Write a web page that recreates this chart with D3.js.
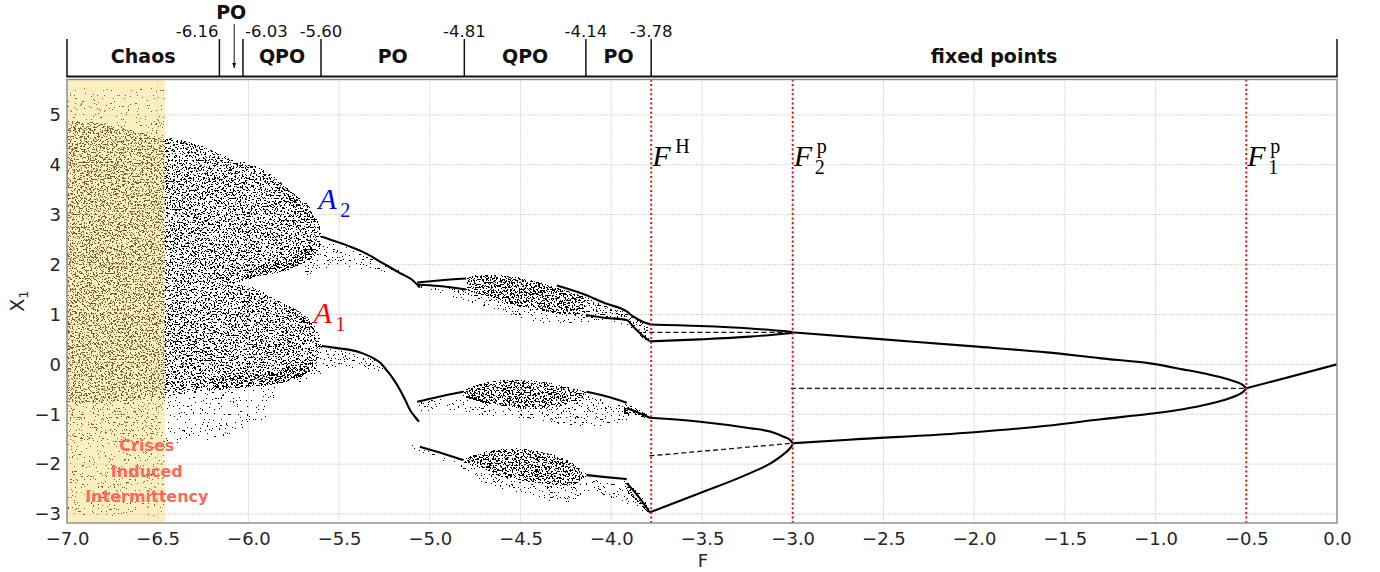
<!DOCTYPE html>
<html>
<head>
<meta charset="utf-8">
<script src="https://cdn.jsdelivr.net/npm/d3@7"></script>
<style>
  html, body { margin: 0; padding: 0; background: #fff; }
  svg { display: block; }
</style>
</head>
<body>
<svg id="chart" width="1380" height="572"></svg>
<script>
// ---------- axes ----------
const xTickValues = [-7, -6.5, -6, -5.5, -5, -4.5, -4, -3.5, -3, -2.5, -2, -1.5, -1, -0.5, 0];
const yTickValues = [-3, -2, -1, 0, 1, 2, 3, 4, 5];

// ---------- dynamical regimes along F ----------
const regimeBounds = [-6.16, -6.03, -5.60, -4.81, -4.14, -3.78];
const regimeNames = ["Chaos", "PO", "QPO", "PO", "QPO", "PO", "fixed points"];

// ---------- critical forcing values ----------
const criticalF = [-3.78, -3.0, -0.5];
const criticalBase = ["F", "F", "F"];
const criticalSup = ["H", "p", "p"];
const criticalSub = ["", "2", "1"];

// ---------- crisis-induced intermittency band ----------
const crisisBand = [-7.0, -6.46];
const crisisText = ["Crises", "Induced", "Intermittency"];

// ---------- scattered attractor clouds: [F, lowest X1, highest X1] ----------
const chaosCore = [[-7.00, -0.75, 4.90], [-6.85, -0.80, 4.85], [-6.70, -0.75, 4.75], [-6.55, -0.70, 4.62], [-6.46, -0.68, 4.55]];
const chaosFringe = [[-7.00, -1.60, -0.75], [-6.85, -1.55, -0.80], [-6.70, -1.50, -0.75], [-6.46, -1.40, -0.68]];
const chaosHaloTop = [[-7.00, 4.90, 5.55], [-6.85, 4.85, 5.55], [-6.70, 4.75, 5.55], [-6.46, 4.55, 5.55]];
const chaosHaloLow = [[-7.00, -3.05, -1.60], [-6.85, -3.05, -1.55], [-6.70, -3.05, -1.50], [-6.46, -3.05, -1.40]];
const chaosBelow = [[-6.46, -1.60, -0.66], [-6.20, -1.50, -0.52], [-6.00, -1.30, -0.46], [-5.85, -0.90, -0.41]];

const cloudA2 = [[-6.46, 1.60, 4.55], [-6.27, 1.60, 4.40], [-6.12, 1.60, 4.16], [-6.05, 1.62, 4.07], [-5.99, 1.72, 4.03],
  [-5.95, 1.76, 3.96], [-5.88, 1.80, 3.83], [-5.84, 1.83, 3.72], [-5.77, 1.90, 3.49], [-5.73, 1.96, 3.36], [-5.68, 2.05, 3.23],
  [-5.64, 2.16, 3.02], [-5.62, 2.25, 2.89], [-5.60, 2.42, 2.68], [-5.595, 2.52, 2.58]];
const cloudA1 = [[-6.46, -0.65, 1.60], [-6.175, -0.51, 1.60], [-6.12, -0.49, 1.60], [-6.05, -0.47, 1.60], [-5.99, -0.45, 1.56],
  [-5.84, -0.40, 1.29], [-5.81, -0.38, 1.23], [-5.73, -0.26, 1.09], [-5.68, -0.18, 0.98], [-5.64, -0.05, 0.82],
  [-5.615, 0.09, 0.62], [-5.60, 0.22, 0.45], [-5.595, 0.33, 0.37]];
const edgeA2 = [[-6.02, 1.66, 1.88], [-5.88, 1.80, 2.05], [-5.77, 1.90, 2.16], [-5.68, 2.05, 2.30], [-5.63, 2.20, 2.45]];
const rimA2 = [[-5.84, 3.52, 3.72], [-5.73, 3.17, 3.36], [-5.65, 2.85, 3.00]];
const edgeA1 = [[-6.20, -0.52, -0.27], [-5.99, -0.45, -0.18], [-5.81, -0.38, -0.10], [-5.70, -0.22, 0.05], [-5.64, -0.05, 0.15]];
const rimA1 = [[-5.80, 1.07, 1.25], [-5.70, 0.86, 1.02], [-5.64, 0.66, 0.80]];
const tailA2 = [[-5.59, 1.90, 2.50], [-5.50, 1.97, 2.40], [-5.40, 1.92, 2.28], [-5.30, 1.87, 2.12], [-5.20, 1.80, 1.95], [-5.12, 1.75, 1.78]];
const tailA2Under = [[-5.72, 1.75, 1.92], [-5.64, 1.80, 2.14], [-5.60, 1.84, 2.38]];
const tailA1 = [[-5.59, -0.12, 0.33], [-5.50, -0.08, 0.30], [-5.40, -0.08, 0.20], [-5.30, -0.12, 0.10], [-5.22, -0.25, -0.10]];
const tailA1Under = [[-5.75, -0.40, -0.22], [-5.66, -0.30, -0.12], [-5.60, -0.20, 0.20]];

const qpoUpper = [[-4.80, 1.50, 1.72], [-4.74, 1.42, 1.79], [-4.65, 1.34, 1.79], [-4.56, 1.22, 1.77], [-4.45, 1.12, 1.70],
  [-4.34, 1.05, 1.59], [-4.24, 1.00, 1.48], [-4.14, 0.98, 1.36]];
const qpoUpperSparse = [[-5.05, 1.50, 1.60], [-4.90, 1.38, 1.58], [-4.80, 1.25, 1.50], [-4.65, 1.08, 1.34], [-4.50, 0.92, 1.17],
  [-4.35, 0.82, 1.06], [-4.20, 0.82, 0.99], [-4.05, 0.88, 0.95], [-3.95, 0.82, 0.90], [-3.85, 0.58, 0.62], [-3.79, 0.45, 0.47]];
const qpoUpperWedge = [[-4.14, 1.00, 1.36], [-4.05, 0.95, 1.22], [-3.95, 0.90, 1.10], [-3.90, 0.85, 1.00], [-3.85, 0.60, 0.92], [-3.79, 0.45, 0.82]];

const qpoMid = [[-4.82, -0.62, -0.53], [-4.75, -0.72, -0.42], [-4.687, -0.78, -0.35], [-4.61, -0.83, -0.32], [-4.52, -0.88, -0.30],
  [-4.43, -0.91, -0.32], [-4.32, -0.88, -0.38], [-4.246, -0.81, -0.45], [-4.18, -0.72, -0.50], [-4.137, -0.62, -0.55]];
const qpoMidSparse = [[-5.07, -0.95, -0.75], [-4.90, -0.92, -0.66], [-4.80, -0.98, -0.64], [-4.61, -1.05, -0.84], [-4.43, -1.12, -0.92],
  [-4.25, -1.22, -0.82], [-4.10, -1.25, -0.62], [-3.97, -1.21, -0.76], [-3.90, -1.10, -0.95]];
const qpoMidWedge = [[-3.93, -0.98, -0.78], [-3.85, -1.05, -0.90], [-3.79, -1.10, -1.02]];

const qpoLow = [[-4.82, -1.97, -1.90], [-4.75, -2.05, -1.80], [-4.705, -2.10, -1.75], [-4.61, -2.25, -1.70], [-4.52, -2.32, -1.68],
  [-4.43, -2.38, -1.72], [-4.35, -2.42, -1.78], [-4.28, -2.44, -1.85], [-4.20, -2.40, -2.00], [-4.137, -2.25, -2.20]];
const qpoLowSparse = [[-5.10, -1.70, -1.55], [-5.00, -1.85, -1.72], [-4.82, -2.10, -1.98], [-4.71, -2.38, -2.12], [-4.55, -2.55, -2.30],
  [-4.43, -2.65, -2.40], [-4.27, -2.78, -2.45], [-4.10, -2.60, -2.30], [-3.95, -2.75, -2.45], [-3.80, -3.00, -2.95]];
const qpoLowWedge = [[-3.93, -2.48, -2.30], [-3.85, -2.78, -2.55], [-3.79, -3.00, -2.88]];

// ---------- periodic-orbit and fixed-point branches: [F, X1] ----------
const branchA2 = [[-5.595, 2.56], [-5.50, 2.44], [-5.44, 2.36], [-5.35, 2.22], [-5.26, 2.03], [-5.165, 1.83], [-5.10, 1.70], [-5.055, 1.54]];
const branchA1 = [[-5.595, 0.37], [-5.50, 0.32], [-5.44, 0.29], [-5.37, 0.22], [-5.31, 0.12], [-5.27, 0.02], [-5.24, -0.11],
  [-5.20, -0.30], [-5.165, -0.51], [-5.135, -0.72], [-5.11, -0.91], [-5.08, -1.06], [-5.06, -1.15]];
const poUpperA = [[-5.07, 1.64], [-4.95, 1.68], [-4.80, 1.72]];
const poUpperB = [[-5.07, 1.60], [-4.95, 1.57], [-4.80, 1.50]];
const poUpperC = [[-4.30, 1.58], [-4.14, 1.39], [-4.03, 1.22], [-3.915, 1.06], [-3.88, 0.96], [-3.83, 0.86], [-3.78, 0.80]];
const poUpperD = [[-4.14, 0.99], [-4.03, 0.93], [-3.915, 0.89], [-3.88, 0.76], [-3.84, 0.62], [-3.79, 0.47]];
const poMidA = [[-5.07, -0.75], [-4.95, -0.65], [-4.816, -0.55]];
const poMidB = [[-4.137, -0.55], [-4.03, -0.64], [-3.915, -0.77]];
const poMidC = [[-3.915, -0.88], [-3.85, -0.97], [-3.787, -1.07]];
const poLowA = [[-5.055, -1.65], [-4.95, -1.76], [-4.816, -1.92]];
const poLowB = [[-4.137, -2.22], [-4.03, -2.26], [-3.915, -2.30]];
const poLowC = [[-3.915, -2.38], [-3.85, -2.65], [-3.787, -2.97]];

const fixedUpperHi = [[-3.79, 0.80], [-3.51, 0.77], [-3.235, 0.72], [-3.0, 0.65]];
const fixedUpperLo = [[-3.79, 0.46], [-3.51, 0.50], [-3.235, 0.555], [-3.0, 0.63]];
const fixedLowerHi = [[-3.79, -1.07], [-3.51, -1.15], [-3.235, -1.28], [-3.12, -1.35], [-3.05, -1.45], [-3.01, -1.53], [-3.0, -1.58]];
const fixedLowerLo = [[-3.79, -2.97], [-3.51, -2.58], [-3.235, -2.18], [-3.12, -1.98], [-3.05, -1.80], [-3.01, -1.66], [-3.0, -1.60]];
const pitchforkUpper = [[-3.0, 0.64], [-2.5, 0.50], [-2.0, 0.36], [-1.6, 0.24], [-1.3, 0.12], [-1.03, 0.02], [-0.85, -0.10],
  [-0.7, -0.21], [-0.6, -0.30], [-0.55, -0.36], [-0.52, -0.41], [-0.5, -0.48]];
const pitchforkLower = [[-3.0, -1.58], [-2.69, -1.51], [-2.0, -1.36], [-1.6, -1.23], [-1.3, -1.10], [-1.03, -0.99], [-0.85, -0.90],
  [-0.7, -0.79], [-0.6, -0.69], [-0.55, -0.62], [-0.52, -0.56], [-0.5, -0.48]];
const trivialBranch = [[-0.5, -0.48], [0, 0]];

// unstable branches (dashed)
const unstableUpper = [[-3.79, 0.64], [-3.0, 0.64]];
const unstableLower = [[-3.79, -1.835], [-3.0, -1.58]];
const unstableTrivial = [[-3.01, -0.48], [-0.5, -0.48]];

// ---------- drawing ----------
const svg = d3.select("#chart");
const x = d3.scaleLinear().domain([-7, 0]).range([67, 1337]);
const y = d3.scaleLinear().domain([-3.18, 5.71]).range([523, 79.5]);
const plotTop = y.range()[1], plotBottom = y.range()[0];
const plotLeft = x.range()[0], plotRight = x.range()[1];

const defs = svg.append("defs");
// grain filter turning translucent regions into a stippled point cloud
const stipple = defs.append("filter").attr("id", "stipple")
  .attr("filterUnits", "userSpaceOnUse").attr("x", 0).attr("y", 0).attr("width", 1380).attr("height", 572)
  .attr("color-interpolation-filters", "sRGB");
stipple.append("feTurbulence").attr("type", "fractalNoise").attr("baseFrequency", "0.57 0.63")
  .attr("numOctaves", 2).attr("seed", 7).attr("result", "noise");
stipple.append("feColorMatrix").attr("in", "noise").attr("type", "matrix")
  .attr("values", "0 0 0 0 0  0 0 0 0 0  0 0 0 0 0  1 0 0 0 0").attr("result", "grain");
stipple.append("feComposite").attr("in", "SourceAlpha").attr("in2", "grain").attr("operator", "arithmetic")
  .attr("k1", 0).attr("k2", 1).attr("k3", -1).attr("k4", 0.5).attr("result", "diff");
const ct = stipple.append("feComponentTransfer").attr("in", "diff");
["feFuncR", "feFuncG", "feFuncB"].forEach(n => ct.append(n).attr("type", "linear").attr("slope", 0).attr("intercept", 0));
ct.append("feFuncA").attr("type", "discrete").attr("tableValues", "0 1");

defs.append("clipPath").attr("id", "plotClip").append("rect")
  .attr("x", plotLeft).attr("y", plotTop).attr("width", plotRight - plotLeft).attr("height", plotBottom - plotTop);

defs.append("marker").attr("id", "arrowHead").attr("viewBox", "0 0 10 10").attr("refX", 10).attr("refY", 5)
  .attr("markerWidth", 5).attr("markerHeight", 5).attr("orient", "auto")
  .append("path").attr("d", "M0,1 L10,5 L0,9 z").attr("fill", "#111");

// grid
const grid = svg.append("g");
grid.selectAll("line.gx").data(xTickValues).join("line")
  .attr("x1", d => x(d)).attr("x2", d => x(d)).attr("y1", plotTop).attr("y2", plotBottom)
  .attr("stroke", "#c4c4c4").attr("stroke-width", 0.9).attr("stroke-dasharray", "1.2,1.2");
grid.selectAll("line.gy").data(yTickValues).join("line")
  .attr("y1", d => y(d)).attr("y2", d => y(d)).attr("x1", plotLeft).attr("x2", plotRight)
  .attr("stroke", "#c4c4c4").attr("stroke-width", 0.9).attr("stroke-dasharray", "1.2,1.2");

// clouds: [rows, fill opacity driving the dot density]
const area = d3.area().x(d => x(d[0])).y0(d => y(d[1])).y1(d => y(d[2])).curve(d3.curveMonotoneX);
const clouds = [
  [chaosHaloTop, 0.295], [chaosHaloLow, 0.305], [chaosFringe, 0.34], [chaosCore, 0.43], [chaosBelow, 0.29],
  [cloudA2, 0.428], [cloudA1, 0.428], [edgeA2, 0.1], [rimA2, 0.08], [edgeA1, 0.1], [rimA1, 0.08],
  [tailA2, 0.325], [tailA2Under, 0.325], [tailA1, 0.325], [tailA1Under, 0.325],
  [qpoUpper, 0.466], [qpoUpperSparse, 0.33], [qpoUpperWedge, 0.39],
  [qpoMid, 0.46], [qpoMidSparse, 0.325], [qpoMidWedge, 0.43],
  [qpoLow, 0.46], [qpoLowSparse, 0.325], [qpoLowWedge, 0.43]
];
const cloudLayer = svg.append("g").attr("clip-path", "url(#plotClip)").append("g").attr("filter", "url(#stipple)");
cloudLayer.selectAll("path").data(clouds).join("path")
  .attr("d", d => area(d[0])).attr("fill", "#000").attr("fill-opacity", d => d[1]);

// branches
const line = d3.line().x(d => x(d[0])).y(d => y(d[1])).curve(d3.curveMonotoneX);
const solidBranches = [branchA2, branchA1, poUpperA, poUpperB, poUpperC, poUpperD, poMidA, poMidB, poMidC,
  poLowA, poLowB, poLowC, fixedUpperHi, fixedUpperLo, fixedLowerHi, fixedLowerLo, pitchforkUpper, pitchforkLower, trivialBranch];
svg.append("g").attr("clip-path", "url(#plotClip)").selectAll("path").data(solidBranches).join("path")
  .attr("d", line).attr("fill", "none").attr("stroke", "#000").attr("stroke-width", 2.1).attr("stroke-linejoin", "round");
svg.append("g").selectAll("path").data([unstableUpper, unstableLower, unstableTrivial]).join("path")
  .attr("d", line).attr("fill", "none").attr("stroke", "#111").attr("stroke-width", 1.3).attr("stroke-dasharray", "5,3");

// intermittency shading
svg.append("rect").attr("x", x(crisisBand[0])).attr("y", plotTop)
  .attr("width", x(crisisBand[1]) - x(crisisBand[0])).attr("height", plotBottom - plotTop)
  .attr("fill", "rgb(247,220,120)").attr("fill-opacity", 0.45);

// critical forcing markers
svg.append("g").selectAll("line").data(criticalF).join("line")
  .attr("x1", d => x(d)).attr("x2", d => x(d)).attr("y1", plotTop).attr("y2", plotBottom)
  .attr("stroke", "#d91a1a").attr("stroke-width", 2).attr("stroke-dasharray", "2,2.6");

// spines
const spines = svg.append("g").attr("stroke", "#8a8a8a").attr("stroke-width", 1.4).attr("fill", "none");
spines.append("rect").attr("x", plotLeft).attr("y", plotTop).attr("width", plotRight - plotLeft).attr("height", plotBottom - plotTop);

// axes
const xAxis = svg.append("g").attr("transform", `translate(0,${plotBottom})`)
  .call(d3.axisBottom(x).tickValues(xTickValues).tickSize(0).tickPadding(9).tickFormat(d3.format(".1f")));
const yAxis = svg.append("g").attr("transform", `translate(${plotLeft},0)`)
  .call(d3.axisLeft(y).tickValues(yTickValues).tickSize(0).tickPadding(6).tickFormat(d3.format("d")));
[xAxis, yAxis].forEach(a => {
  a.select(".domain").remove();
  a.selectAll("text").attr("font-family", "DejaVu Sans").attr("font-size", 18).attr("fill", "#262626");
});

svg.append("text").attr("x", (plotLeft + plotRight) / 2 + 1).attr("y", 567).attr("text-anchor", "middle")
  .attr("font-family", "DejaVu Sans").attr("font-size", 18).attr("fill", "#262626").text("F");
const yl = svg.append("text").attr("transform", "translate(24,301) rotate(-90)").attr("text-anchor", "middle")
  .attr("font-family", "DejaVu Sans").attr("font-size", 19).attr("fill", "#262626");
yl.append("tspan").text("X");
yl.append("tspan").attr("font-size", 13).attr("dy", 4).text("1");

// crisis text
svg.append("g").selectAll("text").data(crisisText).join("text")
  .attr("x", x(-6.56)).attr("y", (d, i) => 451 + i * 25.5).attr("text-anchor", "middle")
  .attr("font-family", "DejaVu Sans").attr("font-weight", "bold").attr("font-size", 16)
  .attr("fill", "#f96a5d").text(d => d);

// attractor and bifurcation labels
function mathLabel(px, py, base, sup, sub, color) {
  const g = svg.append("g").attr("fill", color).attr("font-family", "Liberation Serif");
  g.append("text").attr("x", px).attr("y", py).attr("font-size", 30).attr("font-style", "italic").text(base);
  if (sup) g.append("text").attr("x", px + 23).attr("y", py - 13).attr("font-size", 20).text(sup);
  if (sub) g.append("text").attr("x", px + (sup ? 21 : 22)).attr("y", py + 8).attr("font-size", 20).text(sub);
}
mathLabel(x(-5.62) + 1, 209, "A", "", "2", "#0000ff");
mathLabel(x(-5.63) - 2, 323, "A", "", "1", "#ff0000");
criticalF.forEach((f, i) => mathLabel(x(f) + 1, 166, criticalBase[i], criticalSup[i], criticalSub[i], "#000"));

// regime band on top
const band = svg.append("g");
const bandTop = 39, bandBottom = 76.5;
const edges = [x.domain()[0], ...regimeBounds, x.domain()[1]];
band.selectAll("line.edge").data(edges).join("line")
  .attr("x1", d => x(d)).attr("x2", d => x(d)).attr("y1", bandTop).attr("y2", bandBottom)
  .attr("stroke", "#111").attr("stroke-width", 1.5);
band.append("line").attr("x1", plotLeft - 0.7).attr("x2", plotRight + 0.7).attr("y1", bandBottom).attr("y2", bandBottom)
  .attr("stroke", "#111").attr("stroke-width", 2);
band.selectAll("text.val").data(regimeBounds).join("text")
  .attr("x", d => x(d)).attr("y", 37)
  .attr("text-anchor", (d, i) => i === 0 ? "end" : i === 1 ? "start" : "middle")
  .attr("dx", (d, i) => i === 0 ? -1 : i === 1 ? 2 : 0)
  .attr("font-family", "DejaVu Sans").attr("font-size", 16.5).attr("fill", "#111")
  .text(d => d.toFixed(2));
band.selectAll("text.name").data(regimeNames).join("text")
  .attr("x", (d, i) => x((edges[i] + edges[i + 1]) / 2))
  .attr("y", (d, i) => i === 1 ? 19 : 63)
  .attr("text-anchor", "middle")
  .attr("font-family", "DejaVu Sans").attr("font-weight", "bold").attr("font-size", 19).attr("fill", "#111")
  .text(d => d);
const narrowMid = x((edges[1] + edges[2]) / 2) + 3;
band.append("line").attr("x1", narrowMid).attr("x2", narrowMid).attr("y1", 24).attr("y2", 68)
  .attr("stroke", "#111").attr("stroke-width", 1).attr("marker-end", "url(#arrowHead)");
</script>
</body>
</html>
